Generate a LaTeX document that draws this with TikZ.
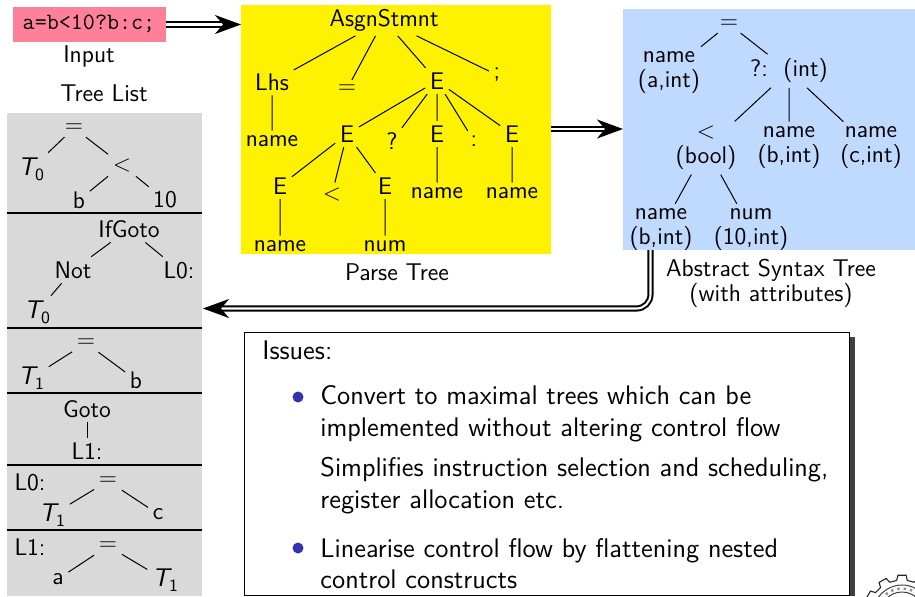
\documentclass[tikz,border=0pt]{standalone}
\usetikzlibrary{arrows.meta}
\definecolor{inpink}{HTML}{FF8099}
\definecolor{parsey}{HTML}{FFF200}
\definecolor{astblue}{HTML}{BFD9FF}
\definecolor{listgrey}{HTML}{D9D9D9}
\definecolor{shadowgrey}{HTML}{404040}
\definecolor{bulletblue}{HTML}{3333B2}
\newcommand{\tsub}[2]{{\fontsize{12.8}{14}\selectfont\itshape #1}\raisebox{-2.5pt}{\fontsize{8.6}{10}\selectfont #2}}
\tikzset{
  x=0.5pt,y=-0.5pt,
  every node/.style={font=\fontsize{12}{12.5}\selectfont\sffamily},
  tn/.style={inner sep=2.2pt,align=center},
  lab/.style={inner sep=0pt,align=center,font=\fontsize{12.1}{11.5}\selectfont\sffamily},
  panel/.style={inner sep=0pt,outer sep=0pt,anchor=north west},
  edge/.style={line width=0.5pt},
  dbl/.style={double,double distance=1.05pt,line width=1pt,-{Stealth[length=13pt,width=9.5pt,inset=4pt]}},
  sep/.style={line width=1pt},
  para/.style={inner sep=0pt,anchor=west,align=left,font=\fontsize{13.45}{16}\selectfont\sffamily},
  bullet/.style={circle,fill=bulletblue,inner sep=0pt,minimum size=5.5pt},
}
\begin{document}
\begin{tikzpicture}
\useasboundingbox (0,0) rectangle (915,596);
% panels
\node[panel,fill=inpink,minimum width=76.75pt,minimum height=17.5pt] (input) at (12.5,7) {};
\node[lab,font=\fontsize{11.7}{12.5}\selectfont\ttfamily] (inputtxt) at (89,24) {a=b<10?b:c;};
\node[lab] (inputlab) at (89,56) {Input};
\node[lab] (listlab) at (104,93) {Tree List};
\node[panel,fill=listgrey,minimum width=97.5pt,minimum height=241.5pt] (list) at (7,113) {};
\node[panel,fill=parsey,minimum width=155pt,minimum height=124.5pt] (parse) at (241,5) {};
\node[lab] (parselab) at (397,272) {Parse Tree};
\node[panel,fill=astblue,minimum width=146pt,minimum height=120.5pt] (ast) at (623,9) {};
\node[lab] (astlab) at (771,283.5) {Abstract Syntax Tree\\(with attributes)};
% separators
\foreach \yy/\nn in {213/s1,328/s2,393/s3,465/s4,530/s5}{
  \coordinate (\nn a) at (7,\yy);
  \coordinate (\nn b) at (202,\yy);
  \draw[sep] (\nn a) -- (\nn b);
}
% tree 1
\node[tn] (a1) at (74,128) {$=$};
\node[tn] (a2) at (31,169) {\tsub{T}{0}};
\node[tn] (a3) at (122,165) {$<$};
\node[tn] (a4) at (79,200) {b};
\node[tn] (a5) at (165,200) {10};
\draw[edge] (a1)--(a2) (a1)--(a3) (a3)--(a4) (a3)--(a5);
% tree 2
\node[tn] (b1) at (129,229) {IfGoto};
\node[tn] (b2) at (73,270) {Not};
\node[tn] (b3) at (179,270) {L0:};
\node[tn] (b4) at (37,312) {\tsub{T}{0}};
\draw[edge] (b1)--(b2) (b1)--(b3) (b2)--(b4);
% tree 3
\node[tn] (c1) at (86,343) {$=$};
\node[tn] (c2) at (31,378) {\tsub{T}{1}};
\node[tn] (c3) at (136,380) {b};
\draw[edge] (c1)--(c2) (c1)--(c3);
% goto
\node[tn] (d1) at (87,409) {Goto};
\node[tn] (d2) at (87,451) {L1:};
\draw[edge] (d1)--(d2);
% L0
\node[tn,inner sep=0pt] (e0) at (30,482) {L0:};
\node[tn] (e1) at (108,481) {$=$};
\node[tn] (e2) at (52,515) {\tsub{T}{1}};
\node[tn] (e3) at (158,514) {c};
\draw[edge] (e1)--(e2) (e1)--(e3);
% L1
\node[tn,inner sep=0pt] (f0) at (30,547) {L1:};
\node[tn] (f1) at (108,546) {$=$};
\node[tn] (f2) at (58,579) {a};
\node[tn] (f3) at (165,580) {\tsub{T}{1}};
\draw[edge] (f1)--(f2) (f1)--(f3);
% parse tree
\node[tn] (p0) at (384,20) {AsgnStmnt};
\node[tn] (p1) at (272,82) {Lhs};
\node[tn] (p2) at (272,141) {name};
\node[tn] (p3) at (347,89) {$=$};
\node[tn] (p4) at (437,81) {E};
\node[tn] (p5) at (497,75) {;};
\node[tn] (p6) at (347,134) {E};
\node[tn] (p7) at (392,141) {?};
\node[tn] (p8) at (437,134) {E};
\node[tn] (p9) at (474,141) {:};
\node[tn] (p10) at (512,134) {E};
\node[tn] (p11) at (437,193) {name};
\node[tn] (p12) at (512,193) {name};
\node[tn] (p13) at (280,186) {E};
\node[tn] (p14) at (332,194) {$<$};
\node[tn] (p15) at (385,186) {E};
\node[tn] (p16) at (280,246) {name};
\node[tn] (p17) at (385,246) {num};
\draw[edge] (p0)--(p1) (p0)--(p3) (p0)--(p4) (p0)--(p5) (p1)--(p2)
  (p4)--(p6) (p4)--(p7) (p4)--(p8) (p4)--(p9) (p4)--(p10)
  (p8)--(p11) (p10)--(p12) (p6)--(p13) (p6)--(p14) (p6)--(p15)
  (p13)--(p16) (p15)--(p17);
% AST
\node[tn] (q0) at (729,24) {$=$};
\node[tn] (q1) at (669,72.5) {name\\(a,int)};
\node[tn] (q2) at (789,71) {?:\ \ (int)};
\node[tn] (q3) at (706,148) {$<$\\(bool)};
\node[tn] (q4) at (789,147.5) {name\\(b,int)};
\node[tn] (q5) at (871,147.5) {name\\(c,int)};
\node[tn] (q6) at (661,229.5) {name\\(b,int)};
\node[tn] (q7) at (751,229.5) {num\\(10,int)};
\draw[edge] (q0)--(q1) (q0)--(q2) (q2)--(q3) (q2)--(q4) (q2)--(q5) (q3)--(q6) (q3)--(q7);
% arrows
\draw[dbl] (input.east) -- (input.east -| parse.west);
\coordinate (m1) at (parse.east |- 0,129);
\coordinate (m2) at (ast.west |- 0,129);
\draw[dbl] (m1) -- (m2);
\coordinate (r0) at (650.5,250);
\coordinate (r1) at (650.5,308.5);
\coordinate (r2) at (203,308.5);
\draw[dbl,rounded corners=7pt] (r0) -- (r1) -- (r2);
% issues box
\fill[shadowgrey] (849,337) rectangle (855,596);
\node[panel,draw=black,line width=0.5pt,fill=white,minimum width=302.5pt,minimum height=131.5pt] (issues) at (244,332) {};
\node[para] (i0) at (262,350) {Issues:};
\node[bullet] (b1dot) at (298,397) {};
\node[para] (i1) at (320,414) {Convert to maximal trees which can be\\implemented without altering control flow};
\node[para] (i2) at (320,486) {Simplifies instruction selection and scheduling,\\register allocation etc.};
\node[bullet] (b2dot) at (298,548) {};
\node[para,font=\fontsize{13.45}{15.5}\selectfont\sffamily] (i3) at (320,563.5) {Linearise control flow by flattening nested\\control constructs};
% emblem
\begin{scope}
\clip (860,566) rectangle (915,596);
\coordinate (g) at (902,614);
\draw[line width=0.55pt,black!85,fill=white]
  \foreach \t in {0,30,...,330}{ ([shift={(\t-9:34)}]g) -- ([shift={(\t-6:39)}]g) -- ([shift={(\t+6:39)}]g) -- ([shift={(\t+9:34)}]g) -- ([shift={(\t+21:34)}]g) };
\draw[line width=0.5pt,black!75] (g) circle[radius=29];
\draw[line width=0.5pt,black!75] (g) circle[radius=22];
\draw[line width=1.2pt,black!45,dotted] (g) circle[radius=25.5];
\end{scope}
\end{tikzpicture}
\end{document}
